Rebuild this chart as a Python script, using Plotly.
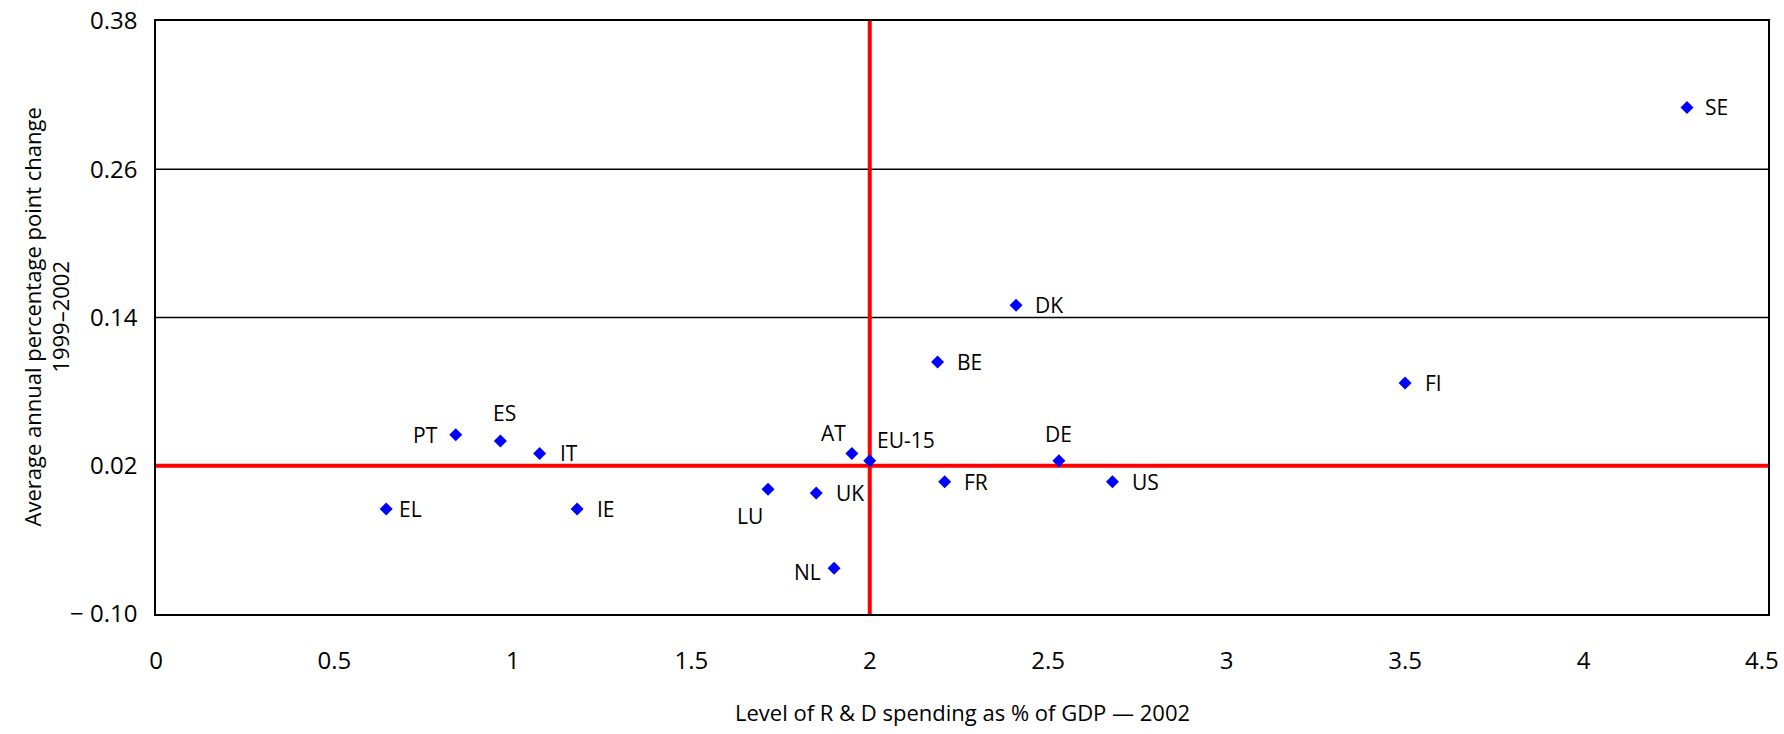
import plotly.graph_objects as go

# R&D intensity (x) versus its average annual change (y), by country
countries = ["SE", "DK", "BE", "FI", "PT", "ES", "IT", "AT", "EU-15",
             "DE", "FR", "US", "LU", "UK", "EL", "IE", "NL"]
rd_spending_2002 = [4.29, 2.41, 2.19, 3.50, 0.84, 0.965, 1.075, 1.95, 2.0,
                    2.53, 2.21, 2.68, 1.715, 1.85, 0.645, 1.18, 1.90]
annual_change = [0.310, 0.150, 0.104, 0.087, 0.045, 0.040, 0.030, 0.030, 0.024,
                 0.024, 0.007, 0.007, 0.001, -0.002, -0.015, -0.015, -0.063]

# Reference cross-hairs
ref_spending = 2.0
ref_change = 0.02

x_ticks = [0, 0.5, 1, 1.5, 2, 2.5, 3, 3.5, 4, 4.5]
y_ticks = [-0.10, 0.02, 0.14, 0.26, 0.38]
y_ticktext = ["\u2212 0.10", "0.02", "0.14", "0.26", "0.38"]

FONT = "Open Sans"

# label placement around each marker: (xanchor, xshift px, yshift px)
label_place = {
    "SE": ("left", 16, 0), "DK": ("left", 17, 0), "BE": ("left", 17, 0),
    "FI": ("left", 18, 0), "PT": ("right", -16, 0), "ES": ("center", 4, 28),
    "IT": ("left", 18, 0), "AT": ("right", -4, 20), "EU-15": ("left", 5, 21),
    "DE": ("center", 0, 27), "FR": ("left", 17, 0), "US": ("left", 18, 0),
    "LU": ("center", -18, -27), "UK": ("left", 18, 0), "EL": ("left", 11, 0),
    "IE": ("left", 18, 0), "NL": ("right", -11, -4),
}

fig = go.Figure()

fig.add_trace(go.Scatter(
    x=rd_spending_2002, y=annual_change, mode="markers",
    marker=dict(symbol="diamond", size=10, color="#0000FF", line=dict(width=0)),
    showlegend=False, hoverinfo="skip", cliponaxis=False,
))

# horizontal gridlines at the inner y ticks (the reference line replaces the one at 0.02)
for yv in y_ticks[1:-1]:
    if abs(yv - ref_change) < 1e-9:
        continue
    fig.add_shape(type="line", xref="paper", yref="y", x0=0, x1=1, y0=yv, y1=yv,
                  line=dict(color="black", width=1.5), layer="below")

# red reference lines, under the markers
fig.add_shape(type="line", xref="x", yref="paper", x0=ref_spending, x1=ref_spending,
              y0=0, y1=1, line=dict(color="#FF0000", width=4), layer="below")
fig.add_shape(type="line", xref="paper", yref="y", x0=0, x1=1,
              y0=ref_change, y1=ref_change, line=dict(color="#FF0000", width=4), layer="below")

annotations = []
for name, xv, yv in zip(countries, rd_spending_2002, annual_change):
    anchor, dx, dy = label_place[name]
    annotations.append(dict(
        x=xv, y=yv, xref="x", yref="y", text=name, showarrow=False,
        xanchor=anchor, yanchor="middle", xshift=dx, yshift=dy,
        font=dict(family=FONT, size=21, color="black"),
    ))

# axis titles
annotations.append(dict(
    x=0.5, y=0, xref="paper", yref="paper", yshift=-98,
    text="Level of R & D spending as % of GDP \u2014 2002", showarrow=False,
    xanchor="center", yanchor="middle",
    font=dict(family=FONT, size=22, color="black"),
))
annotations.append(dict(
    x=0, y=0.5, xref="paper", yref="paper", xshift=-110,
    text="Average annual percentage point change<br>1999\u20132002", showarrow=False,
    textangle=-90, xanchor="center", yanchor="middle",
    font=dict(family=FONT, size=22, color="black"),
))

fig.update_layout(
    width=1784, height=734,
    margin=dict(l=156, r=16, t=21, b=120),
    paper_bgcolor="white", plot_bgcolor="white",
    font=dict(family=FONT, color="black"),
    annotations=annotations,
    xaxis=dict(
        range=[0, 4.517], tickvals=x_ticks, showgrid=False, zeroline=False,
        showline=True, mirror=True, linecolor="black", linewidth=1.5,
        ticks="", ticklabelstandoff=24, ticklabeloverflow="allow",
        automargin=False, tickfont=dict(family=FONT, size=24),
    ),
    yaxis=dict(
        range=[-0.10, 0.38], tickvals=y_ticks, ticktext=y_ticktext,
        showgrid=False, zeroline=False,
        showline=True, mirror=True, linecolor="black", linewidth=1.5,
        ticks="", ticklabelstandoff=12, automargin=False,
        tickfont=dict(family=FONT, size=24),
    ),
)

fig.write_html("out.html")
